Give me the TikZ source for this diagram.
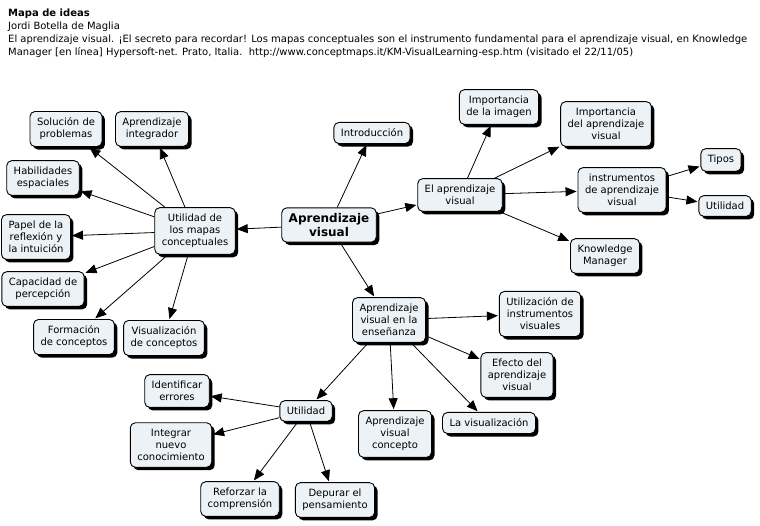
\documentclass[tikz,border=0pt]{standalone}
\usepackage{fontspec}
\setmainfont{DejaVu Sans}
\usetikzlibrary{shadows,arrows.meta}
\definecolor{boxfill}{RGB}{236,242,245}
\tikzset{
 concept/.style={draw=black, line width=0.9pt, fill=boxfill, rounded corners=5pt, align=center,
   font=\fontsize{10}{12}\selectfont, inner xsep=7pt, inner ysep=6.5pt,
   drop shadow={shadow xshift=3pt, shadow yshift=-3pt, fill=black, opacity=1}},
 mainconcept/.style={concept, font=\fontsize{12}{14}\selectfont\bfseries, inner ysep=5.5pt},
 link/.style={-{Triangle[length=11pt,width=9pt]}, line width=0.8pt, shorten >=1pt},
 hdr/.style={anchor=base west, inner sep=0pt, font=\fontsize{10}{12}\selectfont}
}
\begin{document}
\begin{tikzpicture}[x=1pt,y=-1pt]
\useasboundingbox[fill=white] (0,0) rectangle (760,525);
% header
\node[hdr, font=\fontsize{10}{12}\selectfont\bfseries] (h1) at (8,16) {Mapa de ideas};
\node[hdr] (h2) at (8,29) {Jordi Botella de Maglia};
\node[hdr] (h3) at (8,42) {El aprendizaje visual. ¡El secreto para recordar! Los mapas conceptuales son el instrumento fundamental para el aprendizaje visual, en Knowledge};
\node[hdr] (h4) at (8,55) {Manager [en línea] Hypersoft-net. Prato, Italia.\ \ http://www.conceptmaps.it/KM-VisualLearning-esp.htm (visitado el 22/11/05)};
% nodes
\node[concept] (sol) at (66,129) {Solución de\\problemas};
\node[concept] (integ) at (152,129) {Aprendizaje\\integrador};
\node[concept] (hab) at (43,178) {Habilidades\\espaciales};
\node[concept] (papel) at (36,237) {Papel de la\\reflexión y\\la intuición};
\node[concept] (cap) at (43,289) {Capacidad de\\percepción};
\node[concept] (form) at (74,337) {Formación\\de conceptos};
\node[concept] (visc) at (164,338) {Visualización\\de conceptos};
\node[concept] (umap) at (195,231) {Utilidad de\\los mapas\\conceptuales};
\node[mainconcept] (av) at (329,225) {Aprendizaje\\visual};
\node[concept] (intro) at (372,133) {Introducción};
\node[concept] (eav) at (460,195) {El aprendizaje\\visual};
\node[concept] (imim) at (499,107) {Importancia\\de la imagen};
\node[concept] (imav) at (606,124) {Importancia\\del aprendizaje\\visual};
\node[concept] (inst) at (622,190) {instrumentos\\de aprendizaje\\visual};
\node[concept] (tipos) at (721,160) {Tipos};
\node[concept] (utila) at (725,206) {Utilidad};
\node[concept] (km) at (605,256) {Knowledge\\Manager};
\node[concept] (ens) at (389,320) {Aprendizaje\\visual en la\\enseñanza};
\node[concept] (uiv) at (540,314) {Utilización de\\instrumentos\\visuales};
\node[concept] (efe) at (517,375) {Efecto del\\aprendizaje\\visual};
\node[concept] (utilb) at (306,411) {Utilidad};
\node[concept] (ide) at (177,391) {Identificar\\errores};
\node[concept] (intg) at (171,445) {Integrar\\nuevo\\conocimiento};
\node[concept] (avc) at (395,434) {Aprendizaje\\visual\\concepto};
\node[concept] (lav) at (489,423) {La visualización};
\node[concept] (ref) at (240,499) {Reforzar la\\comprensión};
\node[concept] (dep) at (335,500) {Depurar el\\pensamiento};
% links
\draw[link] (av) -- (umap);
\draw[link] (av) -- (intro);
\draw[link] (av) -- (eav);
\draw[link] (av) -- (ens);
\foreach \t in {sol,integ,hab,papel,cap,form,visc} \draw[link] (umap) -- (\t);
\foreach \t in {imim,imav,inst,km} \draw[link] (eav) -- (\t);
\foreach \t in {tipos,utila} \draw[link] (inst) -- (\t);
\foreach \t in {uiv,efe,lav,avc,utilb} \draw[link] (ens) -- (\t);
\foreach \t in {ide,intg,ref,dep} \draw[link] (utilb) -- (\t);
\end{tikzpicture}
\end{document}
